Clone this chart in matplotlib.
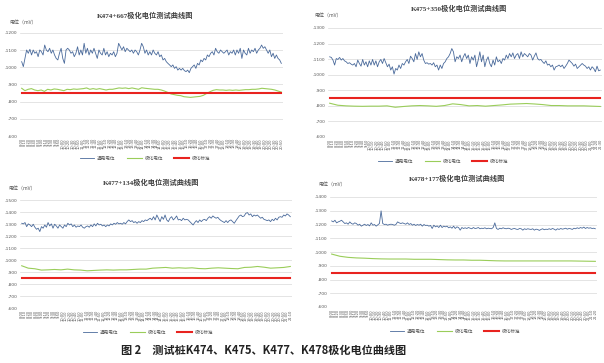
import numpy as np
import matplotlib
matplotlib.use("Agg")
import matplotlib.pyplot as plt

plt.rcParams['font.family'] = ['DejaVu Sans', 'Noto Sans CJK SC']
plt.rcParams['axes.unicode_minus'] = False

# ---- data (mV) ----
titles = ["K474+667极化电位测试曲线图", "K475+350极化电位测试曲线图",
          "K477+134极化电位测试曲线图", "K478+177极化电位测试曲线图"]
legend_names = ["通电电位", "极化电位", "极化标准"]
standard = -850

blue1 = [-1033, -1004, -1052, -1101, -1082, -1105, -1072, -1101, -1082, -1091, -1062, -1101, -1091, -1072,
         -1130, -1101, -1091, -1111, -1082, -1101, -1072, -1052, -1043, -1082, -1111, -1052, -1023, -1101,
         -1111, -1101, -1082, -1091, -1062, -1082, -1120, -1072, -1101, -1072, -1140, -1082, -1111, -1072,
         -1101, -1082, -1111, -1082, -1052, -1101, -1082, -1072, -1111, -1072, -1091, -1062, -1082, -1072,
         -1091, -1062, -1082, -1140, -1120, -1101, -1120, -1091, -1111, -1101, -1091, -1101, -1082, -1101,
         -1091, -1072, -1101, -1140, -1120, -1082, -1101, -1072, -1091, -1072, -1101, -1082, -1072, -1091,
         -1062, -1072, -1043, -1052, -1033, -1023, -1014, -1004, -1014, -994, -1004, -984, -994, -984,
         -994, -981, -975, -984, -969, -994, -1004, -1014, -994, -1023, -1014, -1043, -1033, -1052, -1043,
         -1072, -1062, -1082, -1091, -1072, -1111, -1091, -1082, -1101, -1091, -1082, -1091, -1101, -1072,
         -1091, -1082, -1101, -1072, -1101, -1082, -1111, -1052, -1101, -1082, -1072, -1111, -1082, -1101,
         -1091, -1111, -1082, -1101, -1111, -1130, -1111, -1120, -1101, -1082, -1101, -1062, -1082, -1052,
         -1072, -1052, -1043, -1023]
green1 = [-878, -864, -872, -876, -868, -864, -868, -860, -872, -868, -874, -872, -868, -864, -872, -870,
          -874, -872, -874, -876, -880, -872, -876, -872, -876, -872, -868, -872, -872, -876, -880, -878,
          -880, -876, -880, -876, -872, -881, -878, -876, -874, -872, -872, -868, -862, -854, -845, -841,
          -837, -835, -829, -827, -825, -827, -829, -831, -837, -848, -858, -866, -870, -868, -868, -866,
          -868, -866, -868, -866, -868, -870, -870, -872, -872, -874, -878, -876, -874, -872, -868, -862,
          -856]

blue2 = [-1115, -1111, -1094, -1062, -1104, -1098, -1111, -1094, -1104, -1089, -1083, -1072, -1077, -1068,
         -1062, -1072, -1051, -1094, -1072, -1055, -1098, -1062, -1083, -1051, -1089, -1062, -1098, -1062,
         -1089, -1051, -1083, -1098, -1072, -1104, -1077, -1051, -1068, -1030, -1051, -1004, -1040, -1030,
         -1062, -1040, -1072, -1062, -1083, -1098, -1072, -1119, -1104, -1083, -1136, -1098, -1147, -1115,
         -1136, -1094, -1072, -1077, -1068, -1072, -1062, -1077, -1051, -1062, -1030, -1062, -1040, -1072,
         -1083, -1104, -1115, -1136, -1168, -1147, -1083, -1115, -1104, -1126, -1083, -1115, -1136, -1104,
         -1126, -1072, -1115, -1094, -1126, -1051, -1094, -1147, -1083, -1126, -1051, -1094, -1115, -1072,
         -1051, -1094, -1062, -1115, -1083, -1094, -1072, -1104, -1094, -1126, -1104, -1136, -1115, -1140,
         -1104, -1126, -1136, -1104, -1147, -1115, -1136, -1126, -1115, -1136, -1126, -1094, -1119, -1140,
         -1104, -1094, -1098, -1083, -1072, -1089, -1062, -1068, -1051, -1062, -1030, -1051, -1055, -1062,
         -1051, -1062, -1040, -1055, -1072, -1094, -1083, -1072, -1055, -1068, -1040, -1051, -1062, -1072,
         -1062, -1055, -1040, -1051, -1030, -1051, -1040, -1019, -1055, -1025, -1030]
green2 = [-817, -804, -800, -798, -797, -798, -798, -800, -791, -796, -800, -802, -800, -797, -802, -813,
          -808, -800, -802, -798, -802, -806, -811, -813, -815, -812, -808, -802, -802, -800, -800, -800,
          -798, -796]

blue3 = [-1306, -1301, -1312, -1278, -1301, -1292, -1278, -1298, -1273, -1256, -1265, -1237, -1278, -1265,
         -1292, -1273, -1312, -1284, -1301, -1265, -1298, -1284, -1265, -1292, -1278, -1265, -1292, -1278,
         -1306, -1292, -1301, -1278, -1292, -1273, -1284, -1278, -1292, -1273, -1265, -1278, -1284, -1273,
         -1292, -1278, -1301, -1284, -1306, -1292, -1298, -1284, -1292, -1278, -1292, -1284, -1301, -1292,
         -1306, -1298, -1312, -1301, -1306, -1298, -1312, -1301, -1320, -1334, -1320, -1328, -1312, -1320,
         -1306, -1320, -1312, -1328, -1320, -1334, -1328, -1339, -1348, -1334, -1361, -1334, -1375, -1348,
         -1320, -1361, -1339, -1375, -1334, -1320, -1348, -1361, -1334, -1348, -1367, -1334, -1339, -1328,
         -1348, -1334, -1339, -1334, -1320, -1306, -1292, -1312, -1328, -1312, -1334, -1320, -1334, -1339,
         -1328, -1348, -1361, -1348, -1367, -1356, -1348, -1356, -1339, -1328, -1320, -1312, -1328, -1312,
         -1328, -1334, -1320, -1306, -1328, -1348, -1367, -1375, -1361, -1367, -1389, -1395, -1375, -1384,
         -1361, -1375, -1367, -1375, -1361, -1348, -1356, -1339, -1334, -1328, -1334, -1320, -1339, -1328,
         -1348, -1334, -1356, -1361, -1356, -1375, -1367, -1384, -1375, -1361]
green3 = [-952, -932, -927, -916, -918, -921, -918, -924, -918, -916, -910, -913, -916, -918, -916, -918,
          -918, -921, -924, -924, -932, -935, -938, -932, -935, -932, -935, -929, -927, -932, -935, -932,
          -929, -927, -938, -940, -946, -940, -932, -935, -938, -946]

blue4 = [-1226, -1219, -1231, -1212, -1219, -1224, -1231, -1219, -1207, -1212, -1202, -1219, -1207, -1202,
         -1212, -1207, -1195, -1202, -1188, -1195, -1202, -1193, -1200, -1190, -1212, -1195, -1200, -1188,
         -1198, -1207, -1299, -1207, -1200, -1202, -1195, -1200, -1202, -1200, -1195, -1200, -1219, -1212,
         -1207, -1212, -1207, -1202, -1212, -1200, -1207, -1195, -1202, -1193, -1200, -1195, -1202, -1188,
         -1200, -1193, -1195, -1188, -1193, -1171, -1195, -1183, -1190, -1178, -1195, -1178, -1188, -1183,
         -1188, -1176, -1183, -1173, -1188, -1171, -1183, -1178, -1159, -1178, -1171, -1176, -1171, -1178,
         -1173, -1169, -1178, -1171, -1173, -1178, -1169, -1173, -1171, -1176, -1169, -1173, -1171, -1169,
         -1178, -1212, -1171, -1164, -1173, -1169, -1176, -1171, -1169, -1173, -1171, -1164, -1169, -1171,
         -1166, -1164, -1171, -1169, -1159, -1169, -1164, -1169, -1166, -1164, -1169, -1159, -1166, -1164,
         -1157, -1164, -1169, -1162, -1166, -1164, -1169, -1164, -1171, -1166, -1159, -1169, -1164, -1171,
         -1166, -1169, -1173, -1166, -1171, -1169, -1164, -1173, -1169, -1176, -1171, -1178, -1173, -1181,
         -1171, -1178, -1173, -1176, -1171, -1173, -1169]
green4 = [-985, -969, -961, -957, -955, -952, -950, -949, -949, -949, -947, -947, -947, -945, -943, -942,
          -942, -940, -940, -938, -936, -935, -935, -935, -935, -935, -935, -935, -935, -935, -934, -933,
          -932]

blues = [blue1, blue2, blue3, blue4]
greens = [green1, green2, green3, green4]
y_tops = [-1200, -1300, -1500, -1400]
n_labels = [78, 82, 80, 81]

# ---- layout, in pixels of the 604x363 picture ----
W, H = 604, 363
# left, right, top, bottom of each plot area
areas = [(20, 283, 33, 136), (328, 602, 28, 137), (20, 292, 200, 308), (330, 597, 197, 307)]
title_pos = [(145, 15), (459, 8), (151, 182), (457, 178)]
ylab_pos = [(9, 23), (314, 16), (8, 189), (318, 185)]
legend_pos = [(145, 158), (443, 161), (148, 332), (455, 331)]

blue_c = '#4A6A9B'
green_c = '#9ACD5A'
red_c = '#E8231F'
grid_c = '#D9D9D9'
text_c = '#595959'

fig = plt.figure(figsize=(6.04, 3.63), dpi=100)

for i in range(4):
    l, r, t, b = areas[i]
    ax = fig.add_axes([l / W, 1 - b / H, (r - l) / W, (b - t) / H])
    n = n_labels[i]
    xb = np.linspace(0, n - 1, len(blues[i]))
    xg = np.linspace(0, n - 1, len(greens[i]))
    ax.plot(xb, blues[i], color=blue_c, lw=0.6, label=legend_names[0])
    ax.plot(xg, greens[i], color=green_c, lw=0.8, label=legend_names[1])
    ax.plot([0, n - 1], [standard, standard], color=red_c, lw=1.5, label=legend_names[2])

    ax.set_xlim(-0.5, n - 0.5)
    ax.set_ylim(-600, y_tops[i])
    ax.set_yticks(np.arange(y_tops[i], -599, 100))
    ax.yaxis.grid(True, color=grid_c, lw=0.5)
    ax.set_axisbelow(True)
    for s in ax.spines.values():
        s.set_visible(False)
    ax.tick_params(axis='y', length=0, labelsize=3.2, labelcolor=text_c, pad=2)

    # time-of-day category labels along the bottom
    labels = ['%d:%02d' % (8 + (k * 10) // 60, (k * 10) % 60) for k in range(n)]
    ax.set_xticks(np.arange(n))
    ax.set_xticklabels(labels, rotation=90, fontsize=2.6, color=text_c)
    ax.tick_params(axis='x', length=0, pad=1.5)

    tx, ty = title_pos[i]
    fig.text(tx / W, 1 - ty / H, titles[i], ha='center', va='center', fontsize=5.2,
             fontweight='bold', color='#404040', family=['Liberation Serif', 'Noto Sans CJK SC'])
    yx, yy = ylab_pos[i]
    fig.text(yx / W, 1 - yy / H, "电位（mV）", ha='left', va='center', fontsize=3.6,
             color=text_c, family=['Noto Sans CJK SC', 'DejaVu Sans'])

    lx, ly = legend_pos[i]
    leg = ax.legend(loc='center', bbox_to_anchor=(lx / W, 1 - ly / H), bbox_transform=fig.transFigure,
                    ncol=3, frameon=False, handlelength=3.2, columnspacing=2.5,
                    handletextpad=0.6, prop={'family': ['Noto Sans CJK SC'], 'size': 3.3})
    for txt in leg.get_texts():
        txt.set_color(text_c)

fig.text(264 / W, 1 - 350 / H, "图 2　测试桩K474、K475、K477、K478极化电位曲线图", ha='center', va='center',
         fontsize=8, fontweight='bold', color='#222222', family=['Noto Sans CJK SC', 'DejaVu Sans'])

fig.savefig('out.png', dpi=100, facecolor='white')
